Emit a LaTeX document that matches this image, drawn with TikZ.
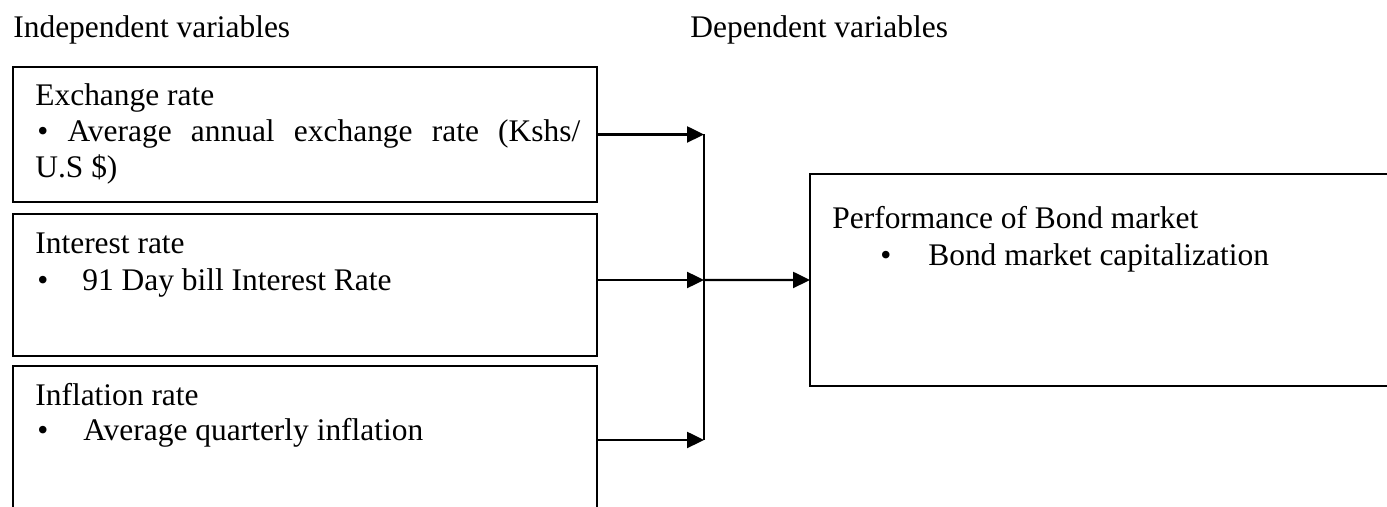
\documentclass[tikz,border=0pt]{standalone}
\usepackage{fontspec}
\setmainfont{Liberation Serif}
\usetikzlibrary{arrows.meta, positioning}

\begin{document}
\begin{tikzpicture}[
  x=0.02cm, y=-0.02cm,
  font=\fontsize{17.9}{20.6}\selectfont,
  box/.style = {draw, line width=1.4pt, inner sep=0pt, outer sep=0pt,
                anchor=north west, minimum width=11.68cm},
  lbl/.style = {anchor=base west, inner sep=0pt},
  arr/.style = {-{Triangle[length=0.34cm, width=0.32cm]}, line width=1.4pt},
  bar/.style = {line width=1.4pt}
]
\clip (0,0) rectangle (1387,507);

% headings
\node[lbl] (indep) at (13,37)  {Independent variables};
\node[lbl] (dep)   at (690,37) {Dependent variables};

% boxes
\node[box, minimum height=2.7cm]  (ex)  at (13,67)  {};
\node[box, minimum height=2.84cm] (ir)  at (13,214) {};
\node[box, minimum height=2.96cm] (inf) at (13,366) {};
\node[box, minimum width=12cm, minimum height=4.24cm] (perf) at (810,174) {};

% box texts
\node[lbl] (exH)   at (35,105)  {Exchange rate};
\node[lbl] (exB)   at (37,141)  {\makebox[10.86cm][s]{\textbullet{} Average annual exchange rate (Kshs/}};
\node[lbl] (exC)   at (35,177)  {U.S \$)};
\node[lbl] (irH)   at (35,253)  {Interest rate};
\node[lbl] (irB)   at (37,290)  {\makebox[0.9cm][l]{\textbullet}91 Day bill Interest Rate};
\node[lbl] (infH)  at (35,405)  {Inflation rate};
\node[lbl] (infB)  at (37,440)  {\makebox[0.92cm][l]{\textbullet}Average quarterly inflation};
\node[lbl] (perfH) at (832,228) {Performance of Bond market};
\node[lbl] (perfB) at (880,265) {\makebox[0.96cm][l]{\textbullet}Bond market capitalization};

% connectors
\coordinate (j) at (704,280);
\draw[arr] (ex.east) -- (ex.east -| j);
\draw[arr] (ir.east |- j) -- (j);
\draw[arr] (inf.east) -- (inf.east -| j);
\draw[bar] (ex.east -| j) -- (inf.east -| j);
\draw[arr] (j) -- (perf.west);
\end{tikzpicture}
\end{document}
